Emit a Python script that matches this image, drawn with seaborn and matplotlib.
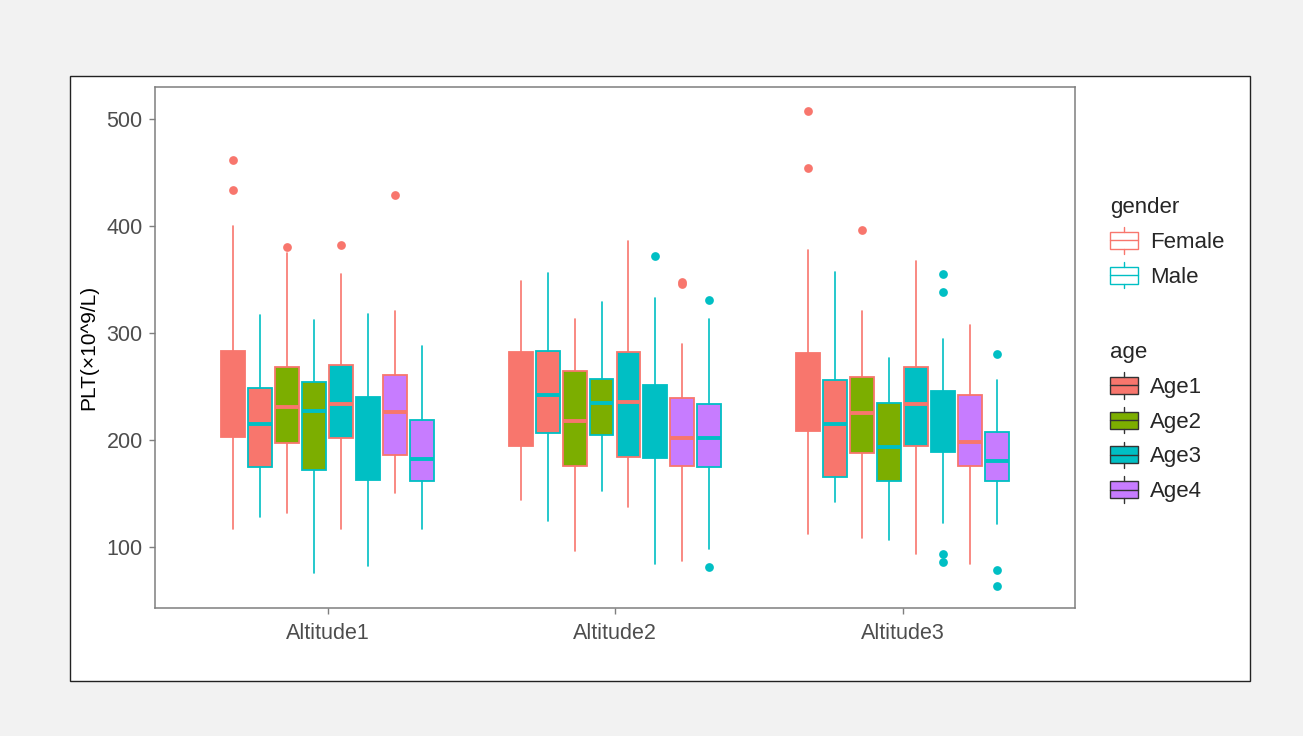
import matplotlib
matplotlib.use("Agg")
import matplotlib.pyplot as plt
import seaborn as sns
from matplotlib.patches import Rectangle, Patch
from matplotlib.lines import Line2D
from matplotlib.legend_handler import HandlerBase

# ---------------- data ----------------
altitudes = ["Altitude1", "Altitude2", "Altitude3"]
ages = ["Age1", "Age2", "Age3", "Age4"]
genders = ["Female", "Male"]
# order inside each altitude: Age1-F, Age1-M, Age2-F, Age2-M, Age3-F, Age3-M, Age4-F, Age4-M
box_q1 = [
    [203.0, 174.3, 196.8, 172.1, 201.5, 162.8, 185.5, 162.1],
    [193.9, 206.8, 175.6, 204.3, 184.3, 183.1, 175.6, 174.3],
    [208.6, 165.6, 187.7, 161.2, 194.3, 189.0, 175.6, 161.2],
]
box_med = [
    [235.0, 214.5, 231.1, 226.7, 233.6, 200.0, 225.8, 182.1],
    [240.0, 242.4, 217.7, 234.6, 235.5, 215.0, 202.1, 202.1],
    [240.0, 214.9, 225.5, 193.4, 233.3, 215.0, 198.1, 180.3],
]
box_q3 = [
    [283.6, 248.9, 268.6, 254.5, 269.8, 240.2, 260.8, 218.9],
    [282.3, 283.3, 264.2, 256.7, 282.0, 251.4, 238.9, 233.3],
    [281.0, 256.4, 258.6, 234.2, 268.6, 245.5, 242.1, 207.7],
]
whisk_lo = [
    [117.2, 128.4, 132.1, 75.4, 116.5, 81.9, 150.0, 116.5],
    [144.3, 124.1, 96.5, 152.2, 137.5, 84.4, 86.6, 97.8],
    [111.9, 141.9, 108.7, 106.3, 93.2, 122.8, 84.4, 121.8],
]
whisk_hi = [
    [400.0, 317.0, 375.0, 312.3, 355.4, 318.0, 321.0, 287.6],
    [348.8, 355.7, 313.5, 329.2, 385.7, 332.3, 290.1, 313.5],
    [377.9, 356.6, 321.0, 277.0, 366.9, 294.5, 307.6, 255.8],
]
outliers = [
    [[462.2, 434.1], [], [380.0], [], [381.9], [], [428.7], []],
    [[], [], [], [], [], [372.3], [345.5, 348.0], [331.3, 81.3]],
    [[507.7, 454.3], [], [396.6], [], [], [355.4, 338.8, 93.7, 85.7], [], [280.1, 78.2, 63.5]],
]
y_ticks = [100, 200, 300, 400, 500]

# ---------------- style ----------------
age_fill = ["#F8766D", "#7CAE00", "#00BFC4", "#C77CFF"]
gender_line = ["#F8766D", "#00BFC4"]

sns.set_theme(style="white")
plt.rcParams['font.family'] = ['Liberation Sans', 'DejaVu Sans']

W, H = 1303, 736
fig = plt.figure(figsize=(W / 100, H / 100), dpi=100)
fig.patch.set_facecolor("#F2F2F2")
fig.add_artist(Rectangle((70 / W, 1 - 681 / H), 1180 / W, 605 / H, transform=fig.transFigure,
                         facecolor="white", edgecolor="#222222", linewidth=1.0, zorder=0))

ax = fig.add_axes([155 / W, 1 - 608 / H, 920 / W, 521 / H])
ax.set_facecolor("white")

dodge_total = 0.75
n_slots = len(ages) * len(genders)
slot = dodge_total / n_slots
box_w = 0.083

for i, alt in enumerate(altitudes):
    for a in range(len(ages)):
        for g in range(len(genders)):
            k = a * 2 + g
            pos = i - dodge_total / 2 + slot * (k + 0.5)
            stats = [dict(med=box_med[i][k], q1=box_q1[i][k], q3=box_q3[i][k],
                          whislo=whisk_lo[i][k], whishi=whisk_hi[i][k],
                          fliers=outliers[i][k])]
            lc = gender_line[g]
            ax.bxp(stats, positions=[pos], widths=[box_w], patch_artist=True,
                   showcaps=False, manage_ticks=False,
                   boxprops=dict(facecolor=age_fill[a], edgecolor=lc, linewidth=1.3),
                   whiskerprops=dict(color=lc, linewidth=1.2),
                   medianprops=dict(color=lc, linewidth=2.8, solid_capstyle="butt"),
                   flierprops=dict(marker="o", markerfacecolor=lc, markeredgecolor=lc,
                                   markersize=6.3, markeredgewidth=0))

ax.set_xlim(-0.6, 2.6)
ax.set_ylim(42.9, 530.0)
ax.set_xticks(range(len(altitudes)))
ax.set_xticklabels(altitudes)
ax.set_yticks(y_ticks)
ax.set_xlabel("")
ax.set_ylabel("PLT(×10^9/L)", fontsize=15, color="black", labelpad=6)
ax.tick_params(axis="both", which="major", direction="out", length=4, width=1.0,
               color="#7F7F7F", labelcolor="#4D4D4D", labelsize=15.5, pad=4.8,
               bottom=True, left=True)
ax.tick_params(axis="x", pad=6.5)
for sp in ax.spines.values():
    sp.set_color("#7F7F7F")
    sp.set_linewidth(1.1)
ax.grid(False)


# ---------------- legends ----------------
class BoxKeyHandler(HandlerBase):
    def create_artists(self, legend, orig_handle, xdescent, ydescent, width, height, fontsize, trans):
        fc = orig_handle.get_facecolor()
        ec = orig_handle.get_edgecolor()
        lw = orig_handle.get_linewidth()
        x0, y0 = -xdescent, -ydescent
        b0 = y0 + 0.15 * height
        b1 = y0 + 0.85 * height
        cx = x0 + width / 2
        rect = Rectangle((x0, b0), width, b1 - b0, facecolor=fc, edgecolor=ec, lw=lw, transform=trans)
        w1 = Line2D([cx, cx], [y0 - 0.05 * height, b0], color=ec, lw=lw, transform=trans)
        w2 = Line2D([cx, cx], [b1, y0 + 1.05 * height], color=ec, lw=lw, transform=trans)
        md = Line2D([x0, x0 + width], [(b0 + b1) / 2] * 2, color=ec, lw=lw, transform=trans)
        return [rect, w1, w2, md]


gender_handles = [Patch(facecolor="white", edgecolor=c, linewidth=1.0) for c in gender_line]
age_handles = [Patch(facecolor=c, edgecolor="#333333", linewidth=1.0) for c in age_fill]

leg_kw = dict(loc="upper left", frameon=False, borderpad=0, borderaxespad=0,
              fontsize=16, title_fontsize=16, handlelength=1.24, handleheight=1.3,
              handletextpad=0.56, labelspacing=0.46, alignment="left",
              handler_map={Patch: BoxKeyHandler()})
leg1 = fig.legend(gender_handles, genders, title="gender",
                  bbox_to_anchor=(1110 / W, 1 - 197 / H), **leg_kw)
leg2 = fig.legend(age_handles, ages, title="age",
                  bbox_to_anchor=(1110 / W, 1 - 342 / H), **leg_kw)

fig.savefig("out.png", dpi=100, facecolor=fig.get_facecolor())
